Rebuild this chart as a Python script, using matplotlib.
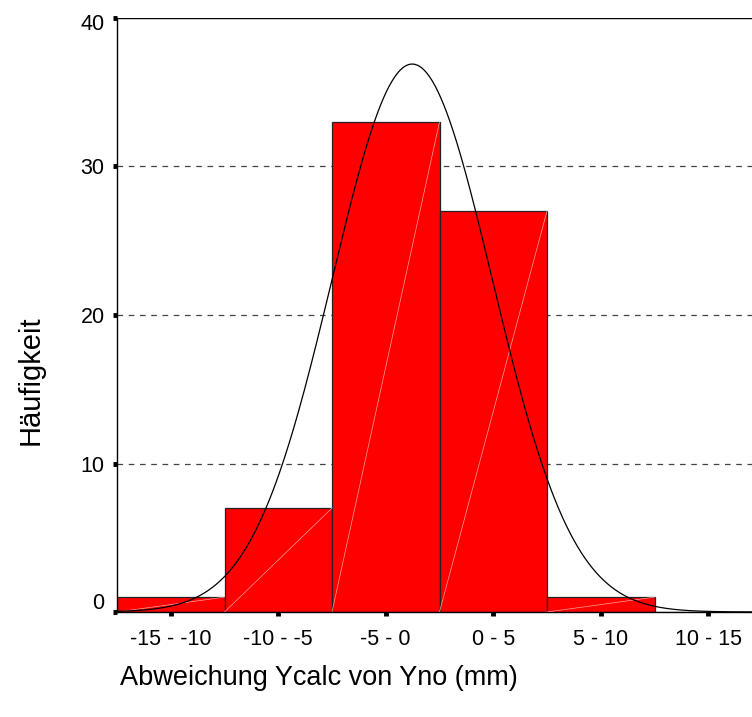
import numpy as np
import matplotlib
matplotlib.use("Agg")
import matplotlib.pyplot as plt
import matplotlib.transforms as mtransforms

categories = ["-15 - -10", "-10 - -5", "-5 - 0", "0 - 5", "5 - 10", "10 - 15"]
counts = [1, 7, 33, 27, 1, 0]
bin_lo = [-15, -10, -5, 0, 5, 10]
bin_width = 5
fit_mean = -1.27
fit_sd = 3.73
y_ticks = [0, 10, 20, 30, 40]

plt.rcParams['font.family'] = ['Liberation Sans', 'DejaVu Sans']

fig = plt.figure(figsize=(7.52, 7.17), dpi=100)
ax = fig.add_axes([117/752, 105/717, 645/752, 594/717])

x = np.arange(len(categories))
bars = ax.bar(x, counts, width=1.0, color='#ff0000', edgecolor='#222222',
              linewidth=0.9, zorder=2)
# diagonal highlight lines inside bars (bottom-left to top-right)
for xi, c in zip(x, counts):
    if c > 0:
        ax.plot([xi - 0.5, xi + 0.5], [0, c], color='#ffa0a0', lw=0.5, zorder=3)

# normal curve
n = sum(counts)
v = np.linspace(-15, 20, 800)
dens = n * bin_width / (fit_sd * np.sqrt(2 * np.pi)) * np.exp(-0.5 * ((v - fit_mean) / fit_sd) ** 2)
xv = (v - bin_lo[0]) / bin_width - 0.5
ax.plot(xv, dens, color='black', lw=0.9, zorder=4)

ax.set_xlim(-0.5, 5.5)
ax.set_ylim(0, 40)
ax.set_yticks(y_ticks)
ax.set_xticks(x)
ax.set_xticklabels(categories)

for yt in y_ticks[1:-1]:
    ax.axhline(yt, color='#444444', lw=0.9, ls=(0, (4.5, 4.5)), zorder=1)
ax.axhline(40, color='black', lw=1.0, zorder=1)

ax.spines['right'].set_visible(False)
ax.spines['top'].set_visible(False)
ax.spines['left'].set_linewidth(1.0)
ax.spines['bottom'].set_linewidth(1.0)

ax.tick_params(axis='y', direction='out', length=3, width=3.5, labelsize=15.5, pad=6)
ax.tick_params(axis='x', direction='out', length=3, width=3.5, labelsize=15.5, pad=9)

# shift the "0" and "40" labels slightly, as in the reference
ylabels = ax.get_yticklabels()
ylabels[0].set_transform(ylabels[0].get_transform() + mtransforms.ScaledTranslation(0, 11/100, fig.dpi_scale_trans))
ylabels[-1].set_transform(ylabels[-1].get_transform() + mtransforms.ScaledTranslation(0, -4/100, fig.dpi_scale_trans))

fig.text(319/752, 1 - 678/717, "Abweichung Ycalc von Yno (mm)", ha='center', va='center', fontsize=19.5)
fig.text(31/752, 1 - 380/717, "Häufigkeit", ha='center', va='center', rotation=90, fontsize=21)

fig.savefig("out.png", dpi=100)
